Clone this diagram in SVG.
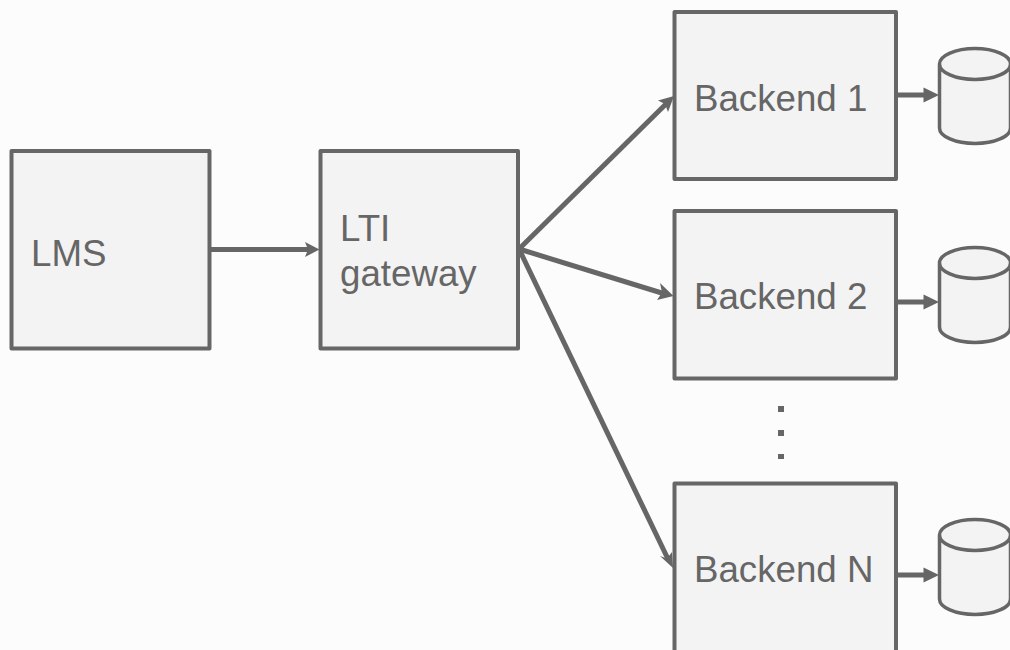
<svg xmlns="http://www.w3.org/2000/svg" width="1010" height="650" viewBox="0 0 1010 650">
<style>
.box{fill:#f3f3f3;stroke:#666;stroke-width:4;stroke-linejoin:round}
.cyl{fill:#f3f3f3;stroke:#666;stroke-width:3.500;stroke-linejoin:round}
.t{font-family:"Liberation Sans",Arial,sans-serif;font-size:36.700px;fill:#666}
.c{stroke:#666;stroke-width:5;fill:none}
.h{fill:#666;stroke:none}
.d{fill:#666}
</style>
<rect width="1010" height="650" fill="#fcfcfc"/>
<g id="connectors">
<path class="c" d="M211 249.500H312"/><path class="h" d="M319.500 249.500L305 242L308 249.500L305 257Z"/>
<path class="c" d="M519 249L668 102"/><path class="h" d="M674 96L658 100.500L665 104L668 112Z"/>
<path class="c" d="M519 249L665 294"/><path class="h" d="M673.500 296L660 283L662 292.500L657 300Z"/>
<path class="c" d="M519 249L668 559"/><path class="h" d="M673 568L660 556L667 558.500L672 552Z"/>
<path class="c" d="M897 95H925"/><path class="h" d="M939 95L923.500 87.500V102.500Z"/>
<path class="c" d="M897 302H925"/><path class="h" d="M939 302L923.500 294.500V309.500Z"/>
<path class="c" d="M897 575H925"/><path class="h" d="M939 575L923.500 567.500V582.500Z"/>
</g>
<g id="lms"><rect class="box" x="11.500" y="151" width="198" height="197.500"/><text class="t" x="31" y="266">LMS</text></g>
<g id="gateway"><rect class="box" x="320.500" y="151" width="197.500" height="197.500"/><text class="t" x="340" y="241">LTI</text><text class="t" x="340" y="286">gateway</text></g>
<g id="backend1"><rect class="box" x="674.500" y="12" width="221.500" height="167"/><text class="t" x="694" y="111">Backend 1</text></g>
<g id="backend2"><rect class="box" x="674.500" y="211" width="221.500" height="167.500"/><text class="t" x="694" y="309">Backend 2</text></g>
<g id="backendn"><rect class="box" x="674.500" y="483.500" width="221.500" height="172"/><text class="t" x="694" y="582">Backend N</text></g>
<g id="db1"><path class="cyl" d="M939.500 64V128A35.500 15.500 0 0 0 1010.500 128V64A35.500 15.500 0 0 0 939.500 64A35.500 15.500 0 0 0 1010.500 64"/></g>
<g id="db2"><path class="cyl" d="M939.500 263V327A35.500 15.500 0 0 0 1010.500 327V263A35.500 15.500 0 0 0 939.500 263A35.500 15.500 0 0 0 1010.500 263"/></g>
<g id="dbn"><path class="cyl" d="M939.500 535V599A35.500 15.500 0 0 0 1010.500 599V535A35.500 15.500 0 0 0 939.500 535A35.500 15.500 0 0 0 1010.500 535"/></g>
<g id="dots"><rect class="d" x="778" y="406" width="6" height="6"/><rect class="d" x="778" y="430" width="6" height="6"/><rect class="d" x="778" y="454" width="6" height="5"/></g>
</svg>
